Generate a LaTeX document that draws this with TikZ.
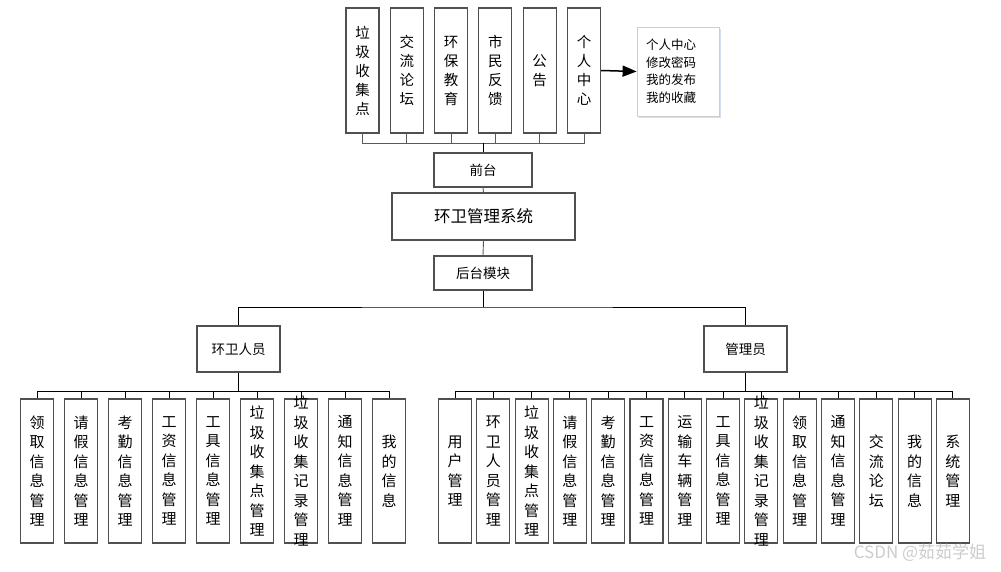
\documentclass[tikz,border=0pt]{standalone}
\usepackage{fontspec}
\setmainfont{Noto Sans CJK SC}
\usetikzlibrary{arrows.meta,shadows}
\definecolor{boxgray}{RGB}{80,80,80}
\definecolor{linegray}{RGB}{90,90,90}
\definecolor{notegray}{RGB}{205,205,205}
\definecolor{shadowblue}{RGB}{200,215,235}

\begin{document}
\begin{tikzpicture}[x=1pt,y=-1pt,
  box/.style={draw=boxgray, line width=1.1pt, fill=white, inner sep=0pt, align=center},
  topbox/.style={box, minimum width=33pt, minimum height=125pt, font=\fontsize{14.5}{19}\selectfont},
  leafbox/.style={box, minimum width=33pt, minimum height=144pt},
  leaftext/.style={inner sep=0pt, align=center, font=\fontsize{15}{19.5}\selectfont},
  midbox/.style={box, minimum width=98pt, minimum height=34pt, font=\fontsize{13.5}{16}\selectfont},
  rolebox/.style={box, minimum width=83pt, minimum height=46pt, font=\fontsize{13.5}{16}\selectfont},
  conn/.style={draw=linegray, line width=0.9pt}]
\useasboundingbox (0,0) rectangle (1001,571);

% Front pages
\foreach \txt [count=\i] in {{垃\\圾\\收\\集\\点}, {交\\流\\论\\坛}, {环\\保\\教\\育},
    {市\\民\\反\\馈}, {公\\告}, {个\\人\\中\\心}}
  \node[topbox] (t\i) at ({362.5+44.3*(\i-1)},70.5) {\txt};

% Personal centre note
\node[draw=notegray, line width=0.8pt, fill=white, inner sep=0pt,
  minimum width=82pt, minimum height=89pt, text width=64pt, align=left,
  font=\fontsize{12.5}{17.5}\selectfont,
  drop shadow={shadow xshift=2pt, shadow yshift=-2pt, fill=shadowblue, opacity=0.8}]
  (note) at (678,71.5) {个人中心\\修改密码\\我的发布\\我的收藏};
\draw[-{Triangle[length=14pt,width=11pt]}, line width=1.5pt] (t6.east) -- (note.west);

% Middle column
\node[midbox] (front) at (483,170) {前台};
\node[box, minimum width=183pt, minimum height=47pt, font=\fontsize{16.5}{19}\selectfont]
  (sys) at (483.5,216.5) {环卫管理系统};
\node[midbox] (back) at (483,273) {后台模块};

\coordinate (fbar) at (483,143);
\foreach \i in {1,...,6}
  \draw[conn] (t\i.south) |- (fbar);
\draw[conn, draw=black] (fbar) -- (front.north);
\draw[conn] (front.south) -- (sys.north);
\draw[conn] (sys.south) -- (back.north);

% Roles
\node[rolebox] (hw) at (238.5,349) {环卫人员};
\node[rolebox] (adm) at (745.5,349) {管理员};
\coordinate (bbar) at (483,307);
\draw[conn, draw=black] (back.south) -- (bbar);
\draw[conn, draw=black] (hw.north) |- (bbar) -| (adm.north);

% Sanitation worker modules
\coordinate (hwbar) at (238.5,391);
\draw[conn, draw=black] (hw.south) -- (hwbar);
\foreach \txt [count=\i] in {{领\\取\\信\\息\\管\\理}, {请\\假\\信\\息\\管\\理},
    {考\\勤\\信\\息\\管\\理}, {工\\资\\信\\息\\管\\理}, {工\\具\\信\\息\\管\\理},
    {垃\\圾\\收\\集\\点\\管\\理}, {垃\\圾\\收\\集\\记\\录\\管\\理},
    {通\\知\\信\\息\\管\\理}, {我\\的\\信\\息}}
{
  \node[leafbox, label={[leaftext]center:\txt}] (hl\i) at ({37+44*(\i-1)},471) {};
  \draw[conn, draw=black] (hl\i.north) |- (hwbar);
}

% Administrator modules
\coordinate (admbar) at (745.5,391);
\draw[conn, draw=black] (adm.south) -- (admbar);
\foreach \txt [count=\i] in {{用\\户\\管\\理}, {环\\卫\\人\\员\\管\\理},
    {垃\\圾\\收\\集\\点\\管\\理}, {请\\假\\信\\息\\管\\理}, {考\\勤\\信\\息\\管\\理},
    {工\\资\\信\\息\\管\\理}, {运\\输\\车\\辆\\管\\理}, {工\\具\\信\\息\\管\\理},
    {垃\\圾\\收\\集\\记\\录\\管\\理}, {领\\取\\信\\息\\管\\理}, {通\\知\\信\\息\\管\\理},
    {交\\流\\论\\坛}, {我\\的\\信\\息}, {系\\统\\管\\理}}
{
  \node[leafbox, label={[leaftext]center:\txt}] (al\i) at ({455+38.3*(\i-1)},471) {};
  \draw[conn, draw=black] (al\i.north) |- (admbar);
}

% Watermark
\node[text=gray!40, font=\fontsize{17}{20}\selectfont] (mark) at (920,553) {CSDN @茹茹学姐};
\end{tikzpicture}
\end{document}
